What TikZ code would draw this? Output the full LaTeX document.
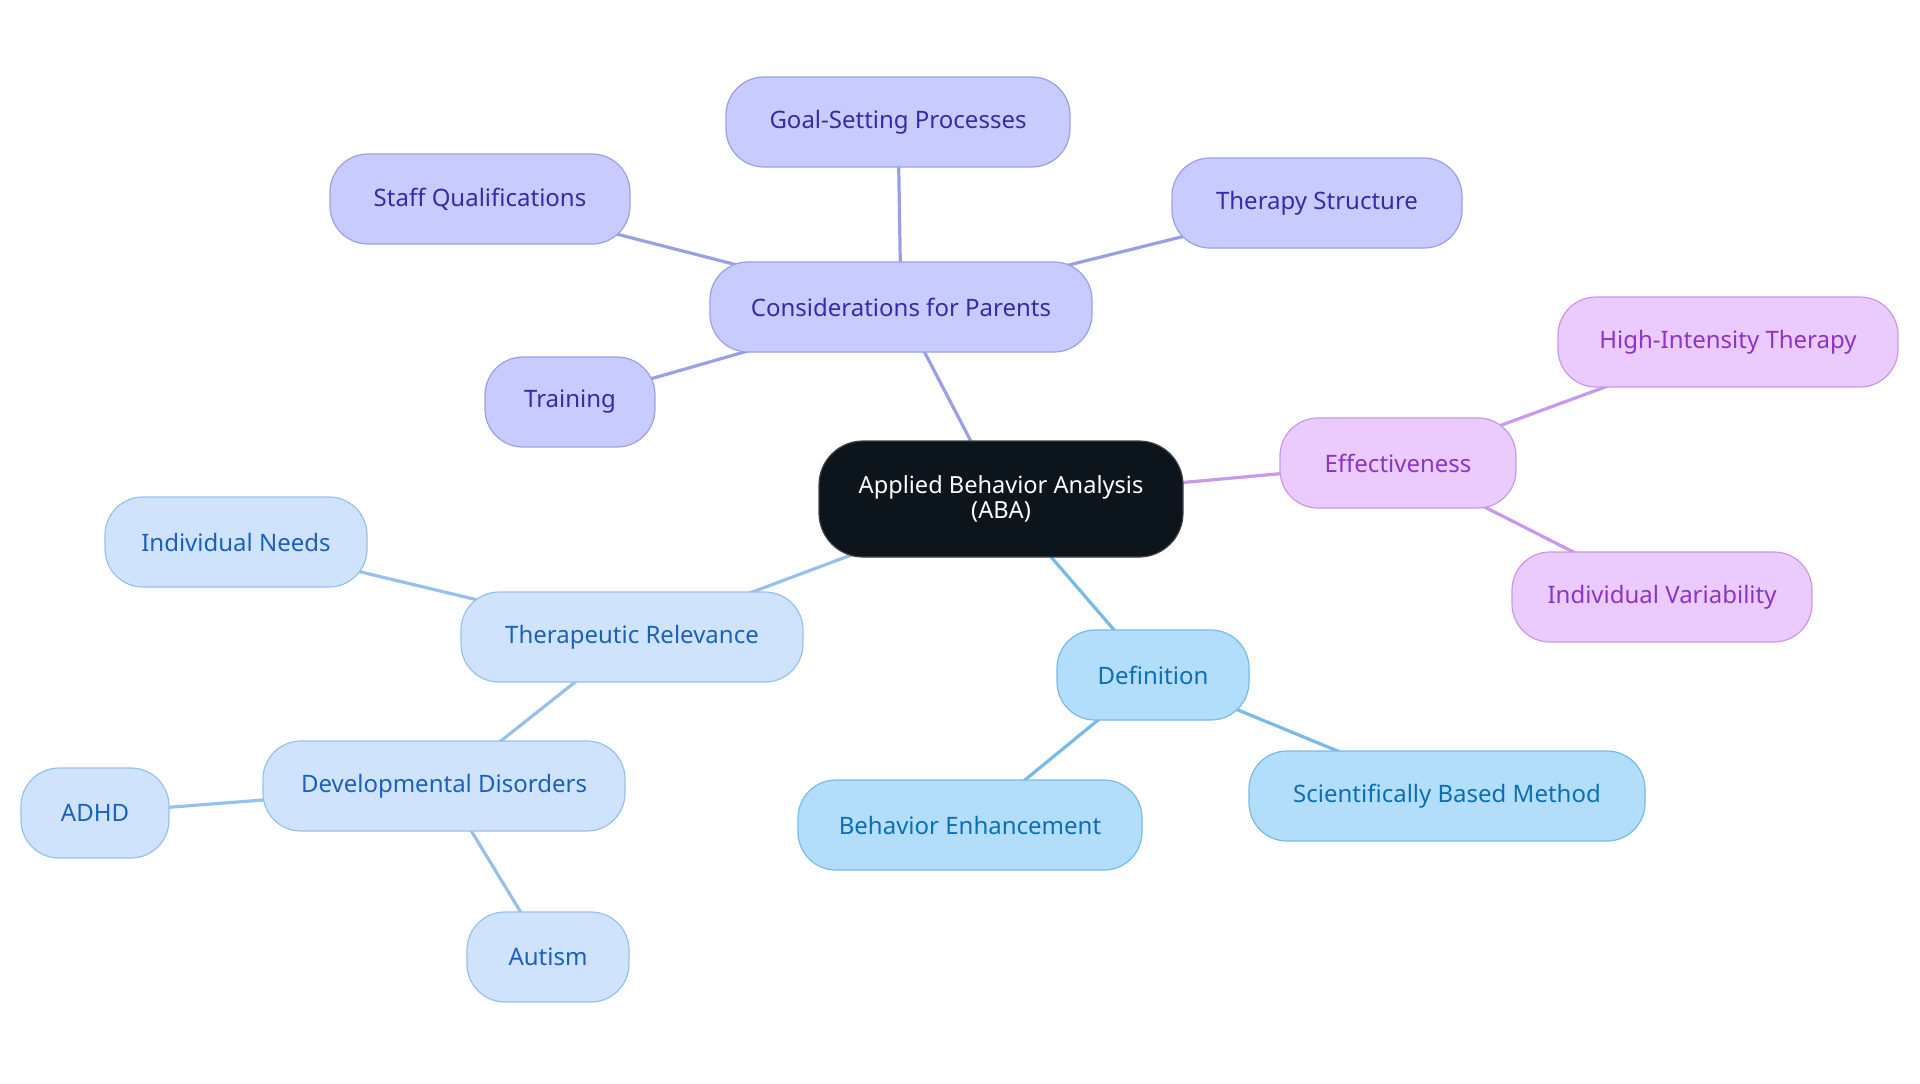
\documentclass[tikz,border=0pt]{standalone}
\usepackage{fontspec}
\setmainfont{Noto Sans}
\usetikzlibrary{backgrounds}

\definecolor{abafill}{RGB}{12,20,28}
\definecolor{parentfill}{RGB}{200,203,254}
\definecolor{parentline}{RGB}{154,160,232}
\definecolor{parenttext}{RGB}{49,46,170}
\definecolor{effectfill}{RGB}{235,203,254}
\definecolor{effectline}{RGB}{200,152,236}
\definecolor{effecttext}{RGB}{140,52,200}
\definecolor{relfill}{RGB}{207,228,252}
\definecolor{relline}{RGB}{152,192,236}
\definecolor{reltext}{RGB}{28,96,190}
\definecolor{deffill}{RGB}{178,222,252}
\definecolor{defline}{RGB}{120,186,232}
\definecolor{deftext}{RGB}{14,110,180}

\begin{document}
\begin{tikzpicture}[x=0.5pt,y=-0.5pt,
        topic/.style={rectangle,rounded corners=19pt,minimum height=45pt,inner sep=0pt,
            line width=0.6pt,font=\fontsize{12}{14}\selectfont},
        aba/.style={topic,fill=abafill,draw=abafill!80!white,text=white,align=center,
            minimum height=58pt,rounded corners=22pt,font=\fontsize{11.8}{12.5}\selectfont},
        parent/.style={topic,fill=parentfill,draw=parentline,text=parenttext},
        effect/.style={topic,fill=effectfill,draw=effectline,text=effecttext},
        relev/.style={topic,fill=relfill,draw=relline,text=reltext},
        defin/.style={topic,fill=deffill,draw=defline,text=deftext},
        link/.style={line width=1.6pt}]

  \useasboundingbox (0,0) rectangle (1920,1083);

  \node[aba,minimum width=182pt] (ABA) at (1001,499) {Applied Behavior Analysis\\(ABA)};

  \node[parent,minimum width=191pt] (Parents) at (901,307) {Considerations for Parents};
  \node[parent,minimum width=172pt] (Goal Setting) at (898,122) {Goal-Setting Processes};
  \node[parent,minimum width=150pt] (Staff) at (480,199) {Staff Qualifications};
  \node[parent,minimum width=145pt] (Structure) at (1317,203) {Therapy Structure};
  \node[parent,minimum width=85pt] (Training) at (570,402) {Training};

  \node[effect,minimum width=118pt] (Effectiveness) at (1398,463) {Effectiveness};
  \node[effect,minimum width=170pt] (High Intensity) at (1728,342) {High-Intensity Therapy};
  \node[effect,minimum width=150pt] (Variability) at (1662,597) {Individual Variability};

  \node[defin,minimum width=96pt] (Definition) at (1153,675) {Definition};
  \node[defin,minimum width=172pt] (Enhancement) at (970,825) {Behavior Enhancement};
  \node[defin,minimum width=198pt] (Scientific) at (1447,796) {Scientifically Based Method};

  \node[relev,minimum width=171pt] (Relevance) at (632,637) {Therapeutic Relevance};
  \node[relev,minimum width=131pt] (Needs) at (236,542) {Individual Needs};
  \node[relev,minimum width=181pt] (Disorders) at (444,786) {Developmental Disorders};
  \node[relev,minimum width=74pt] (ADHD) at (95,813) {ADHD};
  \node[relev,minimum width=81pt] (Autism) at (548,957) {Autism};

  \begin{scope}[on background layer]
    \path[link,draw=parentline]
        (ABA.center) edge (Parents.center)
        (Parents.center) edge (Goal Setting.center)
        (Parents.center) edge (Staff.center)
        (Parents.center) edge (Structure.center)
        (Parents.center) edge (Training.center);
    \path[link,draw=effectline]
        (ABA.center) edge (Effectiveness.center)
        (Effectiveness.center) edge (High Intensity.center)
        (Effectiveness.center) edge (Variability.center);
    \path[link,draw=defline]
        (ABA.center) edge (Definition.center)
        (Definition.center) edge (Enhancement.center)
        (Definition.center) edge (Scientific.center);
    \path[link,draw=relline]
        (ABA.center) edge (Relevance.center)
        (Relevance.center) edge (Needs.center)
        (Relevance.center) edge (Disorders.center)
        (Disorders.center) edge (ADHD.center)
        (Disorders.center) edge (Autism.center);
  \end{scope}
\end{tikzpicture}
\end{document}
